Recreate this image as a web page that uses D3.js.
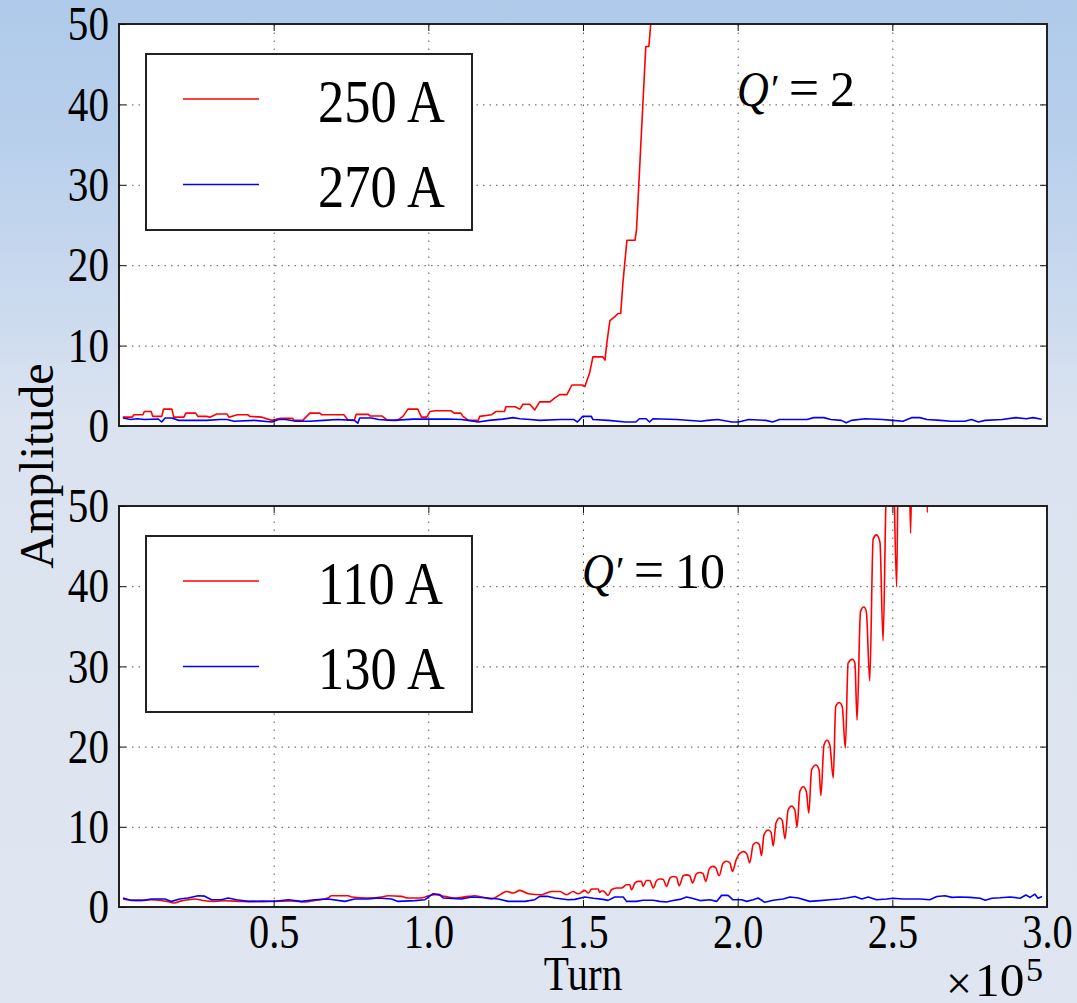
<!DOCTYPE html>
<html>
<head>
<meta charset="utf-8">
<title>Amplitude vs Turn</title>
<script src="https://d3js.org/d3.v7.min.js"></script>
<style>
	body { margin: 0; padding: 0; }
	svg { display: block; }
	text { font-family: "Liberation Serif", "Times New Roman", serif; fill: #000; }
</style>
</head>
<body>
<script>

// turn in units of 1e5, amplitude
// Q' = 2 panel
var red250 = [[0.012,1.1],[0.043,1.1],[0.048,1.4],[0.077,1.4],[0.082,1.8],[0.104,1.8],[0.109,1.2],[0.138,1.2],[0.144,2.1],[0.171,2.1],
	[0.177,1.1],[0.210,1.1],[0.216,1.6],[0.248,1.6],[0.255,1.2],[0.283,1.2],[0.294,1.1],[0.316,1.5],[0.349,1.5],[0.355,1.1],
	[0.383,1.4],[0.416,1.4],[0.423,1.2],[0.462,1.1],[0.494,0.7],[0.522,0.95],[0.561,0.95],[0.566,0.7],[0.594,0.7],[0.617,1.6],
	[0.649,1.6],[0.656,1.4],[0.727,1.4],[0.740,0.75],[0.761,0.75],[0.767,1.45],[0.806,1.45],[0.811,1.25],[0.850,1.25],[0.866,0.75],
	[0.900,0.7],[0.918,1.2],[0.934,2.1],[0.966,2.1],[0.978,1.1],[0.995,1.1],[1.005,1.8],[1.023,1.9],[1.073,1.9],[1.084,1.6],
	[1.105,1.6],[1.112,1.2],[1.128,0.75],[1.162,0.7],[1.166,1.2],[1.205,1.4],[1.218,1.8],[1.246,1.8],[1.251,2.4],[1.280,2.4],
	[1.296,2.1],[1.306,2.7],[1.328,2.7],[1.344,2.0],[1.360,3.0],[1.393,3.0],[1.409,3.5],[1.425,3.9],[1.448,3.9],[1.464,5.1],
	[1.496,5.1],[1.506,4.9],[1.516,6.0],[1.522,6.7],[1.532,8.6],[1.564,8.6],[1.571,8.2],[1.577,10.3],[1.587,13.1],[1.603,13.6],
	[1.613,14.0],[1.622,14.0],[1.629,17.8],[1.639,21.9],[1.642,23.1],[1.668,23.1],[1.673,24.4],[1.703,47.2],[1.713,47.2],[1.720,50.5],
	[1.735,62]];
var blue270 = [[0.013,1.0],[0.038,0.8],[0.060,0.9],[0.082,0.8],[0.127,0.87],[0.138,0.5],[0.149,1.0],[0.171,1.0],[0.193,0.7],[0.283,0.7],
	[0.327,0.8],[0.349,0.8],[0.372,0.6],[0.438,0.7],[0.494,0.5],[0.516,0.8],[0.539,0.8],[0.572,0.6],[0.617,0.6],[0.661,0.7],
	[0.706,0.8],[0.761,0.7],[0.772,0.35],[0.778,1.0],[0.817,1.0],[0.839,0.8],[0.884,0.7],[0.951,0.85],[1.040,0.85],[1.062,0.87],
	[1.106,0.8],[1.129,0.7],[1.162,0.5],[1.196,0.7],[1.240,0.85],[1.274,1.04],[1.296,0.9],[1.329,0.8],[1.360,0.7],[1.427,0.8],
	[1.471,0.8],[1.482,0.5],[1.499,1.2],[1.527,1.2],[1.532,0.8],[1.582,0.7],[1.637,0.5],[1.671,0.5],[1.682,0.9],[1.704,0.9],
	[1.715,0.5],[1.726,0.9],[1.803,0.8],[1.881,0.6],[1.903,0.7],[1.936,0.8],[1.981,0.5],[2.003,0.5],[2.036,0.8],[2.091,0.7],
	[2.113,0.5],[2.135,0.8],[2.224,0.8],[2.246,1.04],[2.279,1.04],[2.301,0.8],[2.335,0.7],[2.351,0.4],[2.368,0.7],[2.412,0.9],
	[2.468,0.8],[2.501,0.7],[2.534,0.6],[2.562,1.04],[2.589,1.04],[2.612,0.8],[2.656,0.7],[2.689,0.6],[2.734,0.6],[2.756,0.8],
	[2.778,0.5],[2.800,0.7],[2.855,0.8],[2.899,1.04],[2.933,0.9],[2.955,1.04],[2.983,0.85]];

// Q' = 10 panel
var red110 = [[0.013,1.0],[0.051,0.82],[0.083,0.82],[0.105,0.91],[0.137,0.82],[0.164,0.62],[0.180,0.5],[0.196,0.7],[0.223,0.91],[0.245,1.0],
	[0.272,0.82],[0.310,0.7],[0.342,0.78],[0.396,0.7],[0.450,0.66],[0.504,0.7],[0.558,0.75],[0.601,0.62],[0.633,0.82],[0.676,1.12],
	[0.687,1.4],[0.741,1.4],[0.752,1.25],[0.805,1.12],[0.849,1.25],[0.870,1.4],[0.913,1.32],[0.935,1.12],[0.978,1.12],[0.994,1.32],
	[1.021,1.53],[1.053,1.32],[1.086,1.12],[1.129,1.32],[1.150,1.4],[1.172,1.25],[1.204,1.0],[1.237,1.66],[1.253,1.94],[1.274,1.74],
	[1.296,2.07],[1.323,1.66],[1.366,1.53],[1.398,1.94],[1.425,1.94],[1.447,1.53],[1.468,1.94],[1.484,1.65],[1.506,2.07],[1.517,1.74],
	[1.528,2.24],[1.549,2.24],[1.554,1.82],[1.560,2.0],[1.565,2.0],[1.571,1.82],[1.581,1.44],[1.592,2.15],[1.608,2.37],[1.625,2.37],
	[1.641,2.78],[1.651,2.78],[1.657,2.15],[1.668,3.0],[1.678,3.19],[1.689,3.19],[1.694,2.57],[1.705,3.3],[1.716,3.3],[1.727,2.37],
	[1.738,3.3],[1.748,3.5],[1.759,3.45],[1.770,2.57],[1.781,3.6],[1.791,3.8],[1.802,3.7],[1.811,2.65],[1.824,3.9],[1.835,4.0],
	[1.845,3.9],[1.854,3.0],[1.867,4.15],[1.878,4.3],[1.888,4.15],[1.897,3.2],[1.908,4.73],[1.919,5.06],[1.929,4.9],[1.940,3.9],
	[1.953,5.48],[1.964,5.7],[1.975,5.5],[1.983,4.43],[1.996,5.98],[2.007,6.7],[2.020,6.9],[2.030,6.6],[2.039,5.5],[2.050,7.76],
	[2.061,8.05],[2.070,7.8],[2.077,6.4],[2.085,9.0],[2.099,9.6],[2.108,9.3],[2.115,7.6],[2.124,10.5],[2.136,11.1],[2.144,10.8],
	[2.153,8.5],[2.163,12.1],[2.174,12.6],[2.185,12.1],[2.192,9.96],[2.201,14.4],[2.212,15.0],[2.222,14.4],[2.230,11.7],[2.239,17.1],
	[2.253,17.7],[2.263,17.1],[2.269,13.9],[2.279,20.2],[2.289,20.8],[2.298,20.2],[2.309,16.1],[2.317,25.0],[2.328,25.5],[2.338,25.0],
	[2.348,19.8],[2.357,30.4],[2.371,30.9],[2.379,30.4],[2.386,23.3],[2.397,36.8],[2.408,37.4],[2.416,36.8],[2.427,28.2],[2.438,45.9],
	[2.449,46.4],[2.460,45.5],[2.470,33.2],[2.479,50],[2.490,58],[2.500,60],[2.514,39.9],[2.520,60],[2.540,70],[2.553,60],
	[2.559,46.6],[2.565,60],[2.590,75],[2.607,62],[2.613,49.2],[2.619,62],[2.650,85]];
var blue130 = [[0.013,1.12],[0.040,0.82],[0.073,0.82],[0.105,1.0],[0.148,1.0],[0.170,0.7],[0.196,1.0],[0.223,1.12],[0.256,1.4],[0.277,1.35],
	[0.299,0.91],[0.331,0.91],[0.353,1.12],[0.380,0.91],[0.417,0.7],[0.461,0.75],[0.504,0.72],[0.547,0.91],[0.590,0.7],[0.633,0.91],
	[0.676,1.0],[0.730,0.7],[0.762,1.0],[0.805,1.0],[0.838,1.12],[0.881,1.0],[0.902,0.7],[0.956,0.8],[0.989,0.91],[1.016,1.66],
	[1.037,1.55],[1.048,1.12],[1.107,1.0],[1.140,1.25],[1.183,1.15],[1.226,1.0],[1.258,0.7],[1.312,0.7],[1.344,0.91],[1.360,1.32],
	[1.387,1.32],[1.409,1.12],[1.452,0.91],[1.474,0.95],[1.506,1.25],[1.533,1.1],[1.565,0.95],[1.581,0.83],[1.603,1.25],[1.630,1.25],
	[1.641,0.7],[1.673,0.7],[1.694,0.85],[1.727,0.85],[1.748,0.7],[1.770,0.62],[1.791,0.8],[1.813,0.95],[1.835,1.25],[1.856,1.05],
	[1.878,0.8],[1.910,0.9],[1.932,0.7],[1.948,1.45],[1.969,1.45],[1.985,0.9],[2.013,0.9],[2.029,0.7],[2.050,0.9],[2.066,1.12],
	[2.088,0.58],[2.115,0.85],[2.147,1.0],[2.169,1.25],[2.196,1.12],[2.233,0.7],[2.266,0.8],[2.298,0.91],[2.330,1.0],[2.352,1.12],
	[2.379,1.32],[2.401,1.0],[2.422,1.25],[2.449,0.91],[2.481,1.0],[2.503,1.1],[2.535,1.0],[2.589,1.0],[2.621,0.9],[2.644,1.3],
	[2.670,1.4],[2.693,1.2],[2.718,1.25],[2.751,1.2],[2.784,1.1],[2.800,0.85],[2.822,1.1],[2.848,1.15],[2.881,1.25],[2.913,1.1],
	[2.932,1.5],[2.945,1.2],[2.961,1.6],[2.971,1.1],[2.984,1.3]];

var legendTop = ["250 A", "270 A"];
var legendBottom = ["110 A", "130 A"];
var chromTop = "2", chromBottom = "10";

var xTickLabels = [0.5, 1.0, 1.5, 2.0, 2.5, 3.0];
var xInner = [0.5, 1.0, 1.5, 2.0, 2.5];
var yTickLabels = [0, 10, 20, 30, 40, 50];
var yInner = [10, 20, 30, 40];

var W = 1077, H = 1003, SX = 0.84;
var left = 119, right = 1047;

var svg = d3.select("body").append("svg")
	.attr("width", W)
	.attr("height", H);

var defs = svg.append("defs");
var grad = defs.append("linearGradient")
	.attr("id", "bg")
	.attr("x1", 0).attr("y1", 0).attr("x2", 0).attr("y2", 1);
grad.append("stop").attr("offset", "0").attr("stop-color", "#afcaea");
grad.append("stop").attr("offset", "0.15").attr("stop-color", "#b9d0ec");
grad.append("stop").attr("offset", "0.3").attr("stop-color", "#cbdaef");
grad.append("stop").attr("offset", "0.42").attr("stop-color", "#dbe3f0");
grad.append("stop").attr("offset", "1").attr("stop-color", "#dfe6f1");

svg.append("rect").attr("width", W).attr("height", H).attr("fill", "url(#bg)");

var x = d3.scaleLinear().domain([0, 3]).range([left, right]);

var panels = [
	{ id: "p1", top: 24, bottom: 426, red: red250, blue: blue270, legend: legendTop, q: chromTop, qx: 737, labels: false, redCurve: d3.curveLinear },
	{ id: "p2", top: 506, bottom: 907, red: red110, blue: blue130, legend: legendBottom, q: chromBottom, qx: 582, labels: true, redCurve: d3.curveMonotoneX }
];

// squeezed text, glyphs in the picture are narrower than the font
function sqText(parent, px, py, str, size, anchor, sx) {
	return parent.append("text")
		.attr("transform", "translate(" + px + "," + py + ") scale(" + (sx || SX) + ",1)")
		.attr("font-size", size)
		.attr("text-anchor", anchor || "start")
		.text(str);
}

function addAxis(g, axis, tx, ty) {
	var a = g.append("g")
		.attr("transform", "translate(" + tx + "," + ty + ")")
		.call(axis);
	a.select(".domain").remove();
	a.attr("font-family", null).attr("font-size", null).attr("color", "#111");
	return a;
}

panels.forEach(function(p) {
	var y = d3.scaleLinear().domain([0, 50]).range([p.bottom, p.top]);
	var g = svg.append("g");
	var ph = p.bottom - p.top, pw = right - left;

	g.append("rect")
		.attr("x", left).attr("y", p.top)
		.attr("width", pw).attr("height", ph)
		.attr("fill", "#fff");

	// dotted grid
	addAxis(g, d3.axisBottom(x).tickValues(xInner).tickSize(-ph).tickFormat(""), 0, p.bottom)
		.selectAll("line").attr("stroke", "#555").attr("stroke-dasharray", "1.5,6.5");
	addAxis(g, d3.axisLeft(y).tickValues(yInner).tickSize(-pw).tickFormat(""), left, 0)
		.selectAll("line").attr("stroke", "#555").attr("stroke-dasharray", "1.5,5");

	defs.append("clipPath").attr("id", "clip-" + p.id)
		.append("rect")
		.attr("x", left).attr("y", p.top)
		.attr("width", pw).attr("height", ph);

	var line = d3.line()
		.x(function(d) { return x(d[0]); })
		.y(function(d) { return y(d[1]); });

	var lines = g.append("g").attr("clip-path", "url(#clip-" + p.id + ")");
	lines.append("path").datum(p.red)
		.attr("d", line.curve(p.redCurve)).attr("fill", "none")
		.attr("stroke", "#ff0000").attr("stroke-width", 1.6).attr("stroke-linejoin", "round");
	lines.append("path").datum(p.blue)
		.attr("d", line.curve(d3.curveLinear)).attr("fill", "none")
		.attr("stroke", "#0000ff").attr("stroke-width", 1.6).attr("stroke-linejoin", "round");

	g.append("rect")
		.attr("x", left).attr("y", p.top)
		.attr("width", pw).attr("height", ph)
		.attr("fill", "none").attr("stroke", "#222").attr("stroke-width", 2);

	// inward ticks on all four sides
	var yl = addAxis(g, d3.axisLeft(y).tickValues(yTickLabels).tickSizeInner(-7).tickSizeOuter(0).tickFormat(d3.format("d")), left, 0);
	yl.selectAll("text")
		.attr("x", 0).attr("dy", "0.32em")
		.attr("font-size", 49)
		.attr("transform", "translate(-10,0) scale(" + SX + ",1)");
	addAxis(g, d3.axisRight(y).tickValues(yInner).tickSizeInner(-7).tickSizeOuter(0).tickFormat(""), right, 0);
	addAxis(g, d3.axisTop(x).tickValues(xInner).tickSizeInner(-7).tickSizeOuter(0).tickFormat(""), 0, p.top);
	if (p.labels) {
		var xl = addAxis(g, d3.axisBottom(x).tickValues(xTickLabels).tickSizeInner(-7).tickSizeOuter(0).tickFormat(d3.format(".1f")), 0, p.bottom);
		xl.selectAll("text")
			.attr("y", 0).attr("dy", null)
			.attr("font-size", 48)
			.attr("transform", "translate(0,41) scale(" + SX + ",1)");
	} else {
		addAxis(g, d3.axisBottom(x).tickValues(xInner).tickSizeInner(-7).tickSizeOuter(0).tickFormat(""), 0, p.bottom);
	}

	// legend
	var lg = g.append("g").attr("transform", "translate(0," + p.top + ")");
	lg.append("rect")
		.attr("x", 146).attr("y", 30)
		.attr("width", 326).attr("height", 176)
		.attr("fill", "#fff").attr("stroke", "#222").attr("stroke-width", 2);
	[["#ff0000", 75, 97.5], ["#0000ff", 160.5, 183]].forEach(function(s, i) {
		lg.append("line")
			.attr("x1", 183).attr("x2", 259)
			.attr("y1", s[1]).attr("y2", s[1])
			.attr("stroke", s[0]).attr("stroke-width", 1.6);
		sqText(lg, 318, s[2], p.legend[i], 61, "start", 0.86);
	});

	// Q' annotation
	var qg = g.append("g").attr("transform", "translate(" + p.qx + "," + (p.top + 82) + ")");
	sqText(qg, 0, 0, "Q", 50, "start", 0.88).attr("font-style", "italic");
	sqText(qg, 34, -4, "\u2032", 40, "start", 1);
	sqText(qg, 67, 0, "=", 54, "middle", 1);
	sqText(qg, 93, 0, p.q, 50, "start", 1);
});

// axis titles
svg.append("text")
	.attr("transform", "translate(53,466) rotate(-90)")
	.attr("font-size", 48)
	.attr("text-anchor", "middle")
	.text("Amplitude");

sqText(svg, (left + right) / 2, 990, "Turn", 49, "middle");

sqText(svg, 946, 999, "\u00d7", 46, "start", 1);
sqText(svg, 975, 996, "10", 47, "start", 1.05);
sqText(svg, 1026, 981, "5", 34, "start", 1);

</script>
</body>
</html>
